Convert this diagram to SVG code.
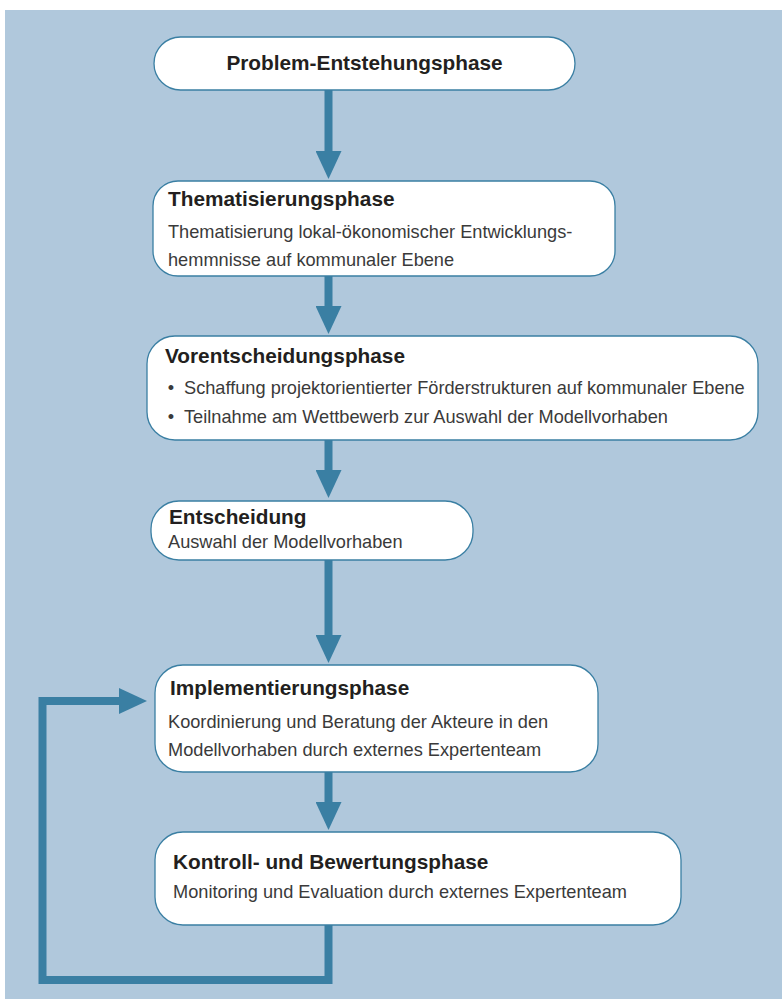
<svg xmlns="http://www.w3.org/2000/svg" width="782" height="999" viewBox="0 0 782 999">
  <style>
    .panel { fill: #b0c8dc; }
    .box { fill: #ffffff; stroke: #3a7fa3; stroke-width: 1.3; }
    .title { font-family: "Liberation Sans", Arial, sans-serif; font-weight: bold; font-size: 20.8px; fill: #231f20; }
    .body { font-family: "Liberation Sans", Arial, sans-serif; font-size: 18.2px; fill: #3a3a3a; }
    .flow { fill: none; stroke: #3a7fa3; stroke-width: 8; stroke-linejoin: miter; }
  </style>
  <defs>
    <marker id="head" markerUnits="userSpaceOnUse" markerWidth="28" markerHeight="26" refX="0" refY="13" orient="auto">
      <path d="M0,0 L28,13 L0,26 Z" fill="#3a7fa3"/>
    </marker>
  </defs>

  <rect width="782" height="999" fill="#ffffff"/>
  <rect class="panel" x="5" y="10" width="777" height="989"/>

  <g id="connectors">
    <line class="flow" x1="328.5" y1="90" x2="328.5" y2="151" marker-end="url(#head)"/>
    <line class="flow" x1="328.5" y1="276" x2="328.5" y2="306" marker-end="url(#head)"/>
    <line class="flow" x1="328.5" y1="440" x2="328.5" y2="470" marker-end="url(#head)"/>
    <line class="flow" x1="328.5" y1="560" x2="328.5" y2="635" marker-end="url(#head)"/>
    <line class="flow" x1="328.5" y1="772" x2="328.5" y2="802" marker-end="url(#head)"/>
    <polyline class="flow" points="328.5,925 328.5,980 42.5,980 42.5,701 119,701" marker-end="url(#head)"/>
  </g>

  <g id="problem">
    <rect class="box" x="154" y="37" width="421" height="53" rx="26.5"/>
    <text class="title" x="364.5" y="70" text-anchor="middle">Problem-Entstehungsphase</text>
  </g>

  <g id="thematisierung">
    <rect class="box" x="153" y="181" width="462" height="95" rx="25"/>
    <text class="title" x="168" y="206">Thematisierungsphase</text>
    <text class="body" x="168" y="238">Thematisierung lokal-ökonomischer Entwicklungs-</text>
    <text class="body" x="168" y="266">hemmnisse auf kommunaler Ebene</text>
  </g>

  <g id="vorentscheidung">
    <rect class="box" x="147" y="336" width="611" height="104" rx="28"/>
    <text class="title" x="165" y="363">Vorentscheidungsphase</text>
    <text class="body" x="171" y="394" text-anchor="middle">•</text>
    <text class="body" x="184" y="394">Schaffung projektorientierter Förderstrukturen auf kommunaler Ebene</text>
    <text class="body" x="171" y="423" text-anchor="middle">•</text>
    <text class="body" x="184" y="423">Teilnahme am Wettbewerb zur Auswahl der Modellvorhaben</text>
  </g>

  <g id="entscheidung">
    <rect class="box" x="151" y="501" width="322" height="59" rx="28"/>
    <text class="title" x="169" y="524">Entscheidung</text>
    <text class="body" x="168" y="548">Auswahl der Modellvorhaben</text>
  </g>

  <g id="implementierung">
    <rect class="box" x="155" y="665" width="443" height="107" rx="28"/>
    <text class="title" x="170" y="695">Implementierungsphase</text>
    <text class="body" x="168" y="728">Koordinierung und Beratung der Akteure in den</text>
    <text class="body" x="168" y="756">Modellvorhaben durch externes Expertenteam</text>
  </g>

  <g id="kontrolle">
    <rect class="box" x="155" y="832" width="526" height="93" rx="28"/>
    <text class="title" x="173" y="869">Kontroll- und Bewertungsphase</text>
    <text class="body" x="173" y="898">Monitoring und Evaluation durch externes Expertenteam</text>
  </g>
</svg>
